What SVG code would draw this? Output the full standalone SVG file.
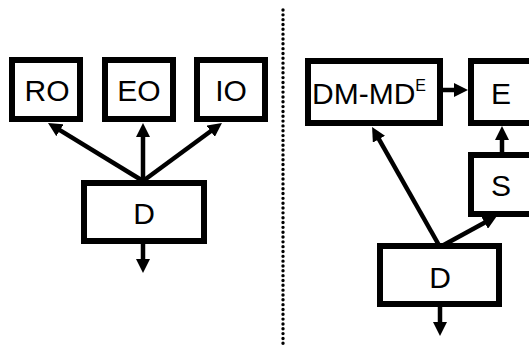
<svg xmlns="http://www.w3.org/2000/svg" width="529" height="354" viewBox="0 0 529 354">
<style>
.box{fill:#fff;stroke:#000;stroke-width:6}
.lbl{font-family:"Liberation Sans",Arial,sans-serif;font-size:30px;fill:#000;text-anchor:middle}
.arr{stroke:#000;stroke-width:4.5;fill:none;marker-end:url(#ah)}
.dots{stroke:#000;stroke-width:3.4;stroke-linecap:round;stroke-dasharray:0 4.83;fill:none}
</style>
<defs>
<marker id="ah" viewBox="0 0 14 14" markerWidth="14" markerHeight="14" refX="5" refY="7" orient="auto" markerUnits="userSpaceOnUse">
<path d="M0,0 L14,7 L0,14 z" fill="#000"/>
</marker>
</defs>
<rect width="529" height="354" fill="#fff"/>
<line class="dots" x1="283" y1="10" x2="283" y2="348"/>
<g id="connectors">
<line class="arr" x1="143" y1="181" x2="55.7" y2="127.6"/>
<line class="arr" x1="143" y1="181" x2="143" y2="132"/>
<line class="arr" x1="143" y1="181" x2="214.7" y2="128.3"/>
<line class="arr" x1="143" y1="244" x2="143" y2="264"/>
<line class="arr" x1="440" y1="247" x2="376.5" y2="134.8"/>
<line class="arr" x1="440" y1="247" x2="489" y2="220.2"/>
<line class="arr" x1="502" y1="155" x2="502" y2="135"/>
<line class="arr" x1="443" y1="90" x2="459" y2="90"/>
<line class="arr" x1="440" y1="307" x2="440" y2="327"/>
</g>
<g id="RO"><rect class="box" x="12" y="60" width="68" height="59"/><text class="lbl" x="47" y="101">RO</text></g>
<g id="EO"><rect class="box" x="105" y="60" width="68" height="59"/><text class="lbl" x="139" y="101">EO</text></g>
<g id="IO"><rect class="box" x="197" y="60" width="68" height="59"/><text class="lbl" x="231" y="101">IO</text></g>
<g id="D1"><rect class="box" x="84" y="183" width="120" height="58"/><text class="lbl" x="144" y="224">D</text></g>
<g id="DMMD"><rect class="box" x="308" y="61" width="132" height="62"/><text class="lbl" x="369" y="104">DM-MD<tspan font-size="16" dy="-13">E</tspan></text></g>
<g id="E"><rect class="box" x="471" y="61" width="72" height="62"/><text class="lbl" x="501" y="104">E</text></g>
<g id="S"><rect class="box" x="471" y="155" width="72" height="59"/><text class="lbl" x="501" y="196">S</text></g>
<g id="D2"><rect class="box" x="380" y="246" width="119" height="58"/><text class="lbl" x="440" y="288">D</text></g>
</svg>
